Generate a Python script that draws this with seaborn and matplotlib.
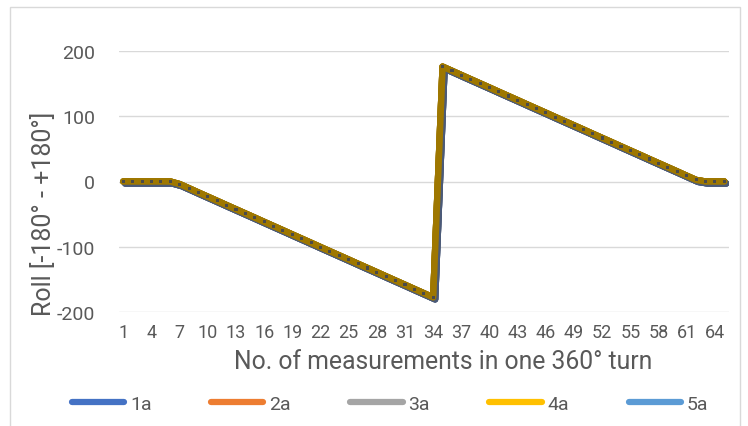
import matplotlib
matplotlib.use("Agg")
import matplotlib.pyplot as plt
import matplotlib.patheffects as pe
from matplotlib.lines import Line2D
from matplotlib.patches import Rectangle
import seaborn as sns
import pandas as pd

# Measurement index within one full turn
measurement = list(range(1, 66))

# Roll angle per measurement (degrees), identical for the five runs
roll_1a = [0, 0, 0, 0, 0, 0,
           -4.0, -10.4, -16.9, -23.3, -29.7, -36.2, -42.6, -49.0, -55.4, -61.9,
           -68.3, -74.7, -81.2, -87.6, -94.0, -100.5, -106.9, -113.3, -119.7,
           -126.2, -132.6, -139.0, -145.5, -151.9, -158.3, -164.8, -171.2, -177.6,
           176.0, 169.6, 163.1, 156.7, 150.3, 143.9, 137.4, 131.0, 124.6, 118.1,
           111.7, 105.3, 98.8, 92.4, 86.0, 79.6, 73.1, 66.7, 60.3, 53.8, 47.4,
           41.0, 34.5, 28.1, 21.7, 15.3, 8.8, 2.4,
           0, 0, 0]
roll_2a = list(roll_1a)
roll_3a = list(roll_1a)
roll_4a = list(roll_1a)
roll_5a = list(roll_1a)

series_names = ["1a", "2a", "3a", "4a", "5a"]
series_colors = ["#4472C4", "#ED7D31", "#A5A5A5", "#FFC000", "#5B9BD5"]
x_ticks = list(range(1, 66, 3))
y_ticks = [-200, -100, 0, 100, 200]

df = pd.concat(
    [pd.DataFrame({"n": measurement, "roll": vals, "series": name})
     for name, vals in zip(series_names,
                           [roll_1a, roll_2a, roll_3a, roll_4a, roll_5a])],
    ignore_index=True)

sns.set_theme(style="white")
plt.rcParams["font.family"] = ["Roboto", "DejaVu Sans"]
plt.rcParams["axes.unicode_minus"] = False

W, H = 748, 427
fig = plt.figure(figsize=(W / 100, H / 100), dpi=100)
ax = fig.add_axes([118.6 / W, 1 - 313 / H, (729 - 118.6) / W, (313 - 52) / H])

line_color = "#9E7700"
sns.lineplot(data=df, x="n", y="roll", hue="series",
             palette={n: line_color for n in series_names},
             legend=False, ax=ax, lw=4.6, marker="s", markersize=2.2,
             markerfacecolor="#4a4a4a", markeredgewidth=0,
             solid_capstyle="round", solid_joinstyle="round")
for ln in ax.get_lines():
    ln.set_path_effects([
        pe.SimpleLineShadow(offset=(1.4, -1.4), shadow_color="#4B5A78", alpha=0.85),
        pe.Normal()])

ax.set_xlim(0.5, 65.5)
ax.set_ylim(-200, 200)
ax.set_xticks(x_ticks)
ax.set_yticks(y_ticks)
ax.grid(axis="y", color="#D9D9D9", lw=1.0)
ax.grid(axis="x", visible=False)
for s in ax.spines.values():
    s.set_visible(False)
ax.tick_params(axis="both", length=0, labelcolor="#595959")
ax.tick_params(axis="y", pad=17, labelsize=14)
ax.tick_params(axis="x", pad=8, labelsize=13)
ax.set_axisbelow(True)

ax.set_xlabel("No. of measurements in one 360° turn", fontsize=17.8,
              color="#595959")
ax.set_ylabel("Roll [-180° - +180°]", fontsize=18, color="#595959")
ax.xaxis.set_label_coords((443 - 118.6) / (729 - 118.6), -(362 - 313) / (313 - 52))
ax.yaxis.set_label_coords(-(118.6 - 44) / (729 - 118.6), 1 - (214 - 52) / (313 - 52))
ax.xaxis.label.set_va("center")
ax.yaxis.label.set_va("center")

handles = [Line2D([0], [0], color=c, lw=4.5, solid_capstyle="round")
           for c in series_colors]
fig.legend(handles, series_names, loc="center", ncol=5,
           bbox_to_anchor=(390 / W, 1 - 405 / H), frameon=False,
           fontsize=14, labelcolor="#595959", handlelength=2.7,
           handletextpad=0.3, columnspacing=3.05)

# chart area border
fig.patches.append(Rectangle((10 / W, -0.02), (740 - 10) / W, 1 - 8 / H + 0.02,
                             transform=fig.transFigure, fill=False,
                             edgecolor="#D9D9D9", lw=1.0))

fig.savefig("out.png", dpi=100)
